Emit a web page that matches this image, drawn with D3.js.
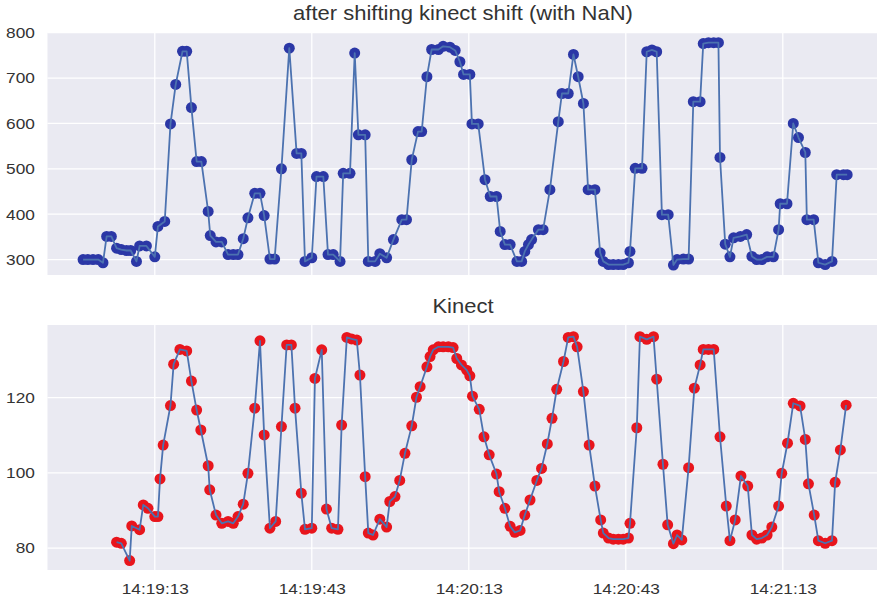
<!DOCTYPE html>
<html>
<head>
<meta charset="utf-8">
<script src="https://cdn.jsdelivr.net/npm/d3@7"></script>
<style>
body { margin: 0; background: #fff; }
text { font-family: "Liberation Sans", Arial, sans-serif; fill: #333; }
</style>
</head>
<body>
<div id="chart"></div>
<script>
// times are seconds after baseTime
var baseTime = "14:18:50";
var xTickLabels = ["14:19:13", "14:19:43", "14:20:13", "14:20:43", "14:21:13"];
var topTitle = "after shifting kinect shift (with NaN)";
var bottomTitle = "Kinect";
var topYTicks = [300, 400, 500, 600, 700, 800];
var bottomYTicks = [80, 100, 120];

var shiftSec = [9.3,10.2,11.2,12.2,13.1,13.8,14.7,15.7,16.6,17.6,
    18.4,19.5,20.1,21.4,23.0,23.6,24.9,26.0,27.0,28.3,
    29.1,30.0,31.0,31.9,33.2,33.6,34.7,35.8,37.0,38.0,
    38.9,39.9,40.8,42.1,43.1,43.9,45.0,45.9,47.2,48.7,
    50.1,51.0,51.7,53.0,53.9,55.2,56.1,57.1,58.4,59.0,
    60.3,61.2,61.9,63.2,63.8,65.1,66.0,67.3,68.6,70.2,
    71.1,72.1,73.3,74.0,75.0,75.9,77.2,78.1,79.4,80.4,
    81.3,82.0,83.2,83.6,84.8,86.1,87.1,88.3,89.0,89.9,
    90.9,92.2,93.1,93.7,94.4,95.0,96.3,97.2,98.5,100.1,
    100.8,102.0,103.0,103.9,104.9,105.8,107.1,108.1,108.7,109.7,
    110.6,111.6,112.5,113.5,113.8,114.8,116.1,117.0,118.0,118.9,
    119.9,121.1,122.1,122.8,124.0,125.0,125.9,127.2,127.8,128.8,
    129.8,130.7,131.0,132.0,132.9,133.6,134.9,136.1,137.1,138.0,
    139.0,140.0,141.2,142.2,142.5,143.8,145.0,146.0,147.3,147.6,
    148.9,149.8,151.1,152.4,153.3,154.6,155.3];
var shiftVal = [300,300,300,300,293,351,351,325,322,320,
    320,296,330,330,306,373,384,599,686,759,
    759,635,516,516,406,353,339,339,311,311,
    311,346,392,446,446,397,301,301,500,766,
    534,534,296,304,483,483,311,311,296,490,
    490,755,575,575,296,296,313,304,344,388,
    388,520,582,582,703,763,763,770,768,761,
    736,708,708,599,599,476,439,439,362,333,
    333,296,296,318,333,344,366,366,454,604,
    666,666,752,703,644,454,454,315,296,289,
    289,289,289,293,318,501,501,758,762,758,
    399,399,288,300,301,301,648,648,776,778,
    778,778,525,334,306,348,351,355,307,300,
    300,306,306,366,423,423,600,569,536,388,
    388,293,289,296,487,487,487];

var kinectSec = [15.7,16.6,18.2,18.6,20.1,20.8,21.7,23.0,23.6,24.0,
    24.6,26.0,26.6,27.8,29.1,30.0,31.0,31.8,33.2,33.5,
    34.7,35.8,37.0,38.0,38.9,39.9,40.8,42.1,43.1,43.9,
    45.0,46.1,47.2,48.2,49.1,49.8,51.0,51.7,53.0,53.6,
    54.9,55.8,56.8,58.0,58.7,59.7,60.6,61.6,62.2,63.2,
    63.8,64.7,66.0,67.3,67.9,68.9,69.8,70.8,72.1,73.0,
    73.7,75.0,75.6,76.2,77.2,78.1,79.1,80.0,80.7,81.6,
    82.6,83.2,83.7,85.0,85.9,86.9,88.3,88.8,89.9,90.9,
    91.8,92.8,93.7,94.7,96.0,96.9,98.0,98.9,99.8,101.1,
    102.0,103.0,103.7,104.9,106.0,107.1,108.2,108.7,109.7,110.6,
    111.6,112.5,113.5,113.8,115.1,115.7,117.0,118.3,118.9,120.1,
    121.0,122.1,122.8,123.7,125.0,126.1,127.2,127.8,128.8,129.8,
    131.0,132.2,132.9,133.9,135.0,136.3,137.1,138.0,139.0,140.0,
    140.9,142.2,142.8,143.9,145.0,146.3,147.3,147.9,149.0,149.8,
    151.1,152.4,153.0,154.0,155.1];
var kinectVal = [81.6,81.3,76.7,85.9,84.9,91.5,90.6,88.4,88.4,98.4,
    107.4,117.9,128.9,132.8,132.4,124.4,116.7,111.4,101.9,95.5,
    88.8,86.6,87.1,86.6,88.4,91.7,99.9,117.2,135.1,110.1,
    85.3,87.1,112.3,134.0,134.0,117.2,94.6,85.0,85.3,125.1,
    132.7,90.4,85.3,85.0,112.7,136.0,135.6,135.3,126.0,99.0,
    84.0,83.5,87.7,85.6,92.4,93.7,98.0,105.2,112.5,120.1,
    122.9,128.2,130.9,132.7,133.5,133.5,133.5,133.3,130.4,128.7,
    127.3,125.8,120.4,116.9,109.6,104.8,99.7,95.0,90.6,85.8,
    84.2,84.7,88.8,92.8,98.0,101.2,107.7,114.5,122.2,129.6,
    136.0,136.2,133.5,121.6,107.4,96.5,87.5,84.0,82.7,82.4,
    82.4,82.4,82.7,86.6,112.0,136.2,135.5,136.2,124.9,102.3,
    86.2,81.2,83.5,82.2,101.4,122.5,128.7,132.8,132.8,132.8,
    109.6,91.2,82.0,87.5,99.2,96.5,83.5,82.4,82.7,83.5,
    85.6,91.2,99.9,107.9,118.5,117.8,108.9,97.1,88.8,82.0,
    81.3,82.0,97.5,106.1,118.0];

var width = 880, height = 600;
var left = 47.5, right = 877;
var stretch = 1.15;   // the picture is a bit wider than tall

var parse = d3.timeParse("%H:%M:%S");
var t0 = parse(baseTime);
function toTime(s) { return new Date(t0.getTime() + s * 1000); }

var svg = d3.select("#chart")
    .append("svg")
    .attr("width", width)
    .attr("height", height);

var x = d3.scaleTime()
    .domain([toTime(2.5), toTime(161)])
    .range([left, right]);
var xTicks = xTickLabels.map(parse);

function panel(top, bottom, yDomain, yTicks, secs, vals, dotColor, title, showX) {
    var y = d3.scaleLinear().domain(yDomain).range([bottom, top]);
    var g = svg.append("g");

    g.append("rect")
        .attr("x", left)
        .attr("y", top)
        .attr("width", right - left)
        .attr("height", bottom - top)
        .style("fill", "#eaeaf2");

    g.selectAll(".ygrid")
        .data(yTicks)
        .enter()
        .append("line")
        .attr("x1", left)
        .attr("x2", right)
        .attr("y1", function (d) { return y(d); })
        .attr("y2", function (d) { return y(d); })
        .style("stroke", "#fff")
        .style("stroke-width", 1.3);

    g.selectAll(".xgrid")
        .data(xTicks)
        .enter()
        .append("line")
        .attr("x1", function (d) { return x(d); })
        .attr("x2", function (d) { return x(d); })
        .attr("y1", top)
        .attr("y2", bottom)
        .style("stroke", "#fff")
        .style("stroke-width", 1.3);

    var yAxis = g.append("g")
        .attr("transform", "translate(" + left + ",0)")
        .call(d3.axisLeft(y).tickValues(yTicks).tickSize(0).tickPadding(0));
    yAxis.select(".domain").remove();
    yAxis.selectAll("text")
        .attr("x", -11)
        .attr("transform", "scale(" + stretch + ",1)")
        .style("font-size", "15px")
        .style("font-family", "'Liberation Sans', Arial, sans-serif")
        .style("fill", "#333");

    if (showX) {
        var xAxis = g.append("g")
            .attr("transform", "translate(0," + bottom + ")")
            .call(d3.axisBottom(x).tickValues(xTicks)
                .tickFormat(d3.timeFormat("%H:%M:%S")).tickSize(0));
        xAxis.select(".domain").remove();
        xAxis.selectAll("text")
            .attr("y", 13)
            .attr("transform", "scale(" + stretch + ",1)")
            .style("font-size", "15px")
            .style("font-family", "'Liberation Sans', Arial, sans-serif")
            .style("fill", "#333");
    }

    var pts = secs.map(function (s, i) { return [toTime(s), vals[i]]; });

    g.selectAll(".dot")
        .data(pts)
        .enter()
        .append("circle")
        .attr("cx", function (d) { return x(d[0]); })
        .attr("cy", function (d) { return y(d[1]); })
        .attr("r", 5.5)
        .style("fill", dotColor);

    var line = d3.line()
        .x(function (d) { return x(d[0]); })
        .y(function (d) { return y(d[1]); });

    g.append("path")
        .datum(pts)
        .attr("d", line)
        .style("fill", "none")
        .style("stroke", "#4c72b0")
        .style("stroke-width", 1.8)
        .style("stroke-linejoin", "round");

    g.append("text")
        .attr("transform", "translate(463," + (top - 12.5) + ") scale(1.1,1)")
        .attr("text-anchor", "middle")
        .style("font-size", "20px")
        .text(title);
}

panel(32.7, 275, [266, 800], topYTicks, shiftSec, shiftVal, "#2b37a6", topTitle, false);
panel(325, 570, [74.2, 139.3], bottomYTicks, kinectSec, kinectVal, "#e8151c", bottomTitle, true);
</script>
</body>
</html>
